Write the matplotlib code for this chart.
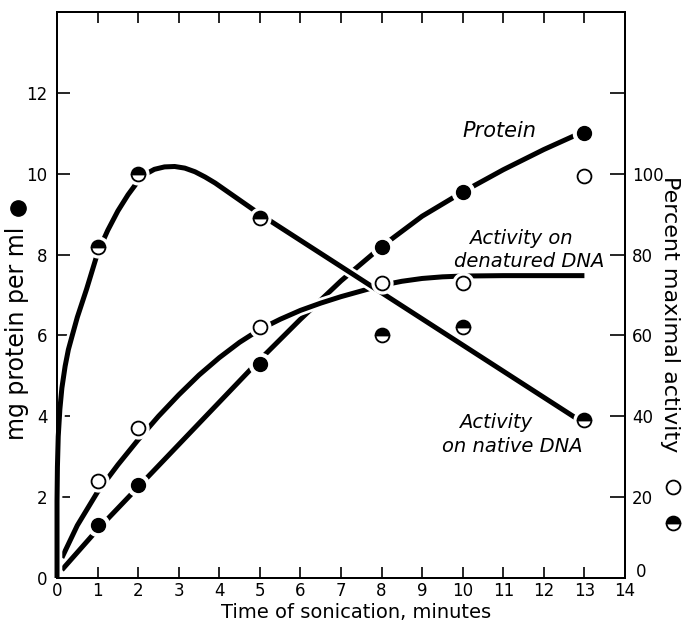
import matplotlib
matplotlib.use("Agg")
import matplotlib.pyplot as plt
import matplotlib.patheffects as pe
import matplotlib.transforms as mtransforms
from matplotlib.lines import Line2D

# measured points
minutes = [1, 2, 5, 8, 10, 13]
protein = [1.3, 2.3, 5.3, 8.2, 9.55, 11.0]          # mg/ml, left axis
act_denatured = [24, 37, 62, 73, 73, 99.5]          # %, right axis
act_native = [82, 100, 89, 60, 62, 39]              # %, right axis

# hand-drawn curves
protein_curve_x = [0.12, 1, 2, 3, 4, 5, 6, 7, 8, 9, 10, 11, 12, 12.75]
protein_curve_y = [0.2, 1.2, 2.25, 3.3, 4.35, 5.4, 6.4, 7.35, 8.2, 8.95, 9.55, 10.1, 10.6, 10.94]
denat_curve_x = [0.12, 0.5, 1, 1.5, 2, 2.5, 3, 3.5, 4, 4.5, 5, 5.5, 6, 6.5, 7, 7.5, 8,
                 8.5, 9, 9.5, 10, 11, 13]
denat_curve_y = [5, 13, 21.3, 28, 34.2, 40, 45.3, 50.2, 54.5, 58.3, 61.5, 64, 66.2, 68,
                 69.6, 71, 72.4, 73.4, 74.1, 74.5, 74.7, 74.8, 74.8]
native_curve_x = [0.0, 0.0, 0.01, 0.03, 0.07, 0.12, 0.2, 0.28, 0.37, 0.5, 0.73, 1.0, 1.25,
                  1.5, 1.75, 2.0, 2.2, 2.4, 2.65, 2.9, 3.15, 3.4, 3.65, 3.9, 4.2, 4.5,
                  5.0, 12.8]
native_curve_y = [0, 19, 27.5, 35, 41.7, 47, 52.4, 56.5, 59.8, 64.5, 71.5, 80.4, 86, 90.8,
                  94.8, 98.2, 100, 101.1, 101.7, 101.8, 101.4, 100.5, 99.2, 97.7, 95.6,
                  93.5, 90, 39.5]

xticks = list(range(0, 15))
left_ticks = [0, 2, 4, 6, 8, 10, 12]
right_ticks = [0, 20, 40, 60, 80, 100, 120]
right_labels = ["0", "20", "40", "60", "80", "100", ""]

lw = 3.6
ms = 10
halo = [pe.Stroke(linewidth=lw + 4, foreground="white"), pe.Normal()]

fig = plt.figure(figsize=(6.82, 6.26), dpi=100)
ax = fig.add_axes([0.0836, 0.0767, 0.8328, 0.904])
ax.set_xlim(0, 14)
ax.set_ylim(0, 14)
ax2 = ax.twinx()
ax2.set_ylim(0, 140)

# protein
ax.plot(protein_curve_x, protein_curve_y, color="black", lw=lw, solid_capstyle="butt", zorder=2)
ax.plot(minutes, protein, "o", color="white", ms=ms + 6, zorder=3)
ax.plot(minutes, protein, "o", color="black", ms=ms, zorder=4)

# activity on denatured DNA
ax2.plot(denat_curve_x, denat_curve_y, color="black", lw=lw, solid_capstyle="butt",
         path_effects=halo, zorder=2)
ax2.plot(minutes, act_denatured, "o", color="white", ms=ms + 5, zorder=3)
ax2.plot(minutes, act_denatured, "o", mfc="white", mec="black", mew=1.3, ms=ms, zorder=4)

# activity on native DNA
ax2.plot(native_curve_x, native_curve_y, color="black", lw=lw, solid_capstyle="butt",
         solid_joinstyle="round", path_effects=halo, zorder=2.2, clip_on=False)
ax2.plot(minutes, act_native, "o", color="white", ms=ms + 5, zorder=3)
ax2.plot(minutes, act_native, "o", fillstyle="top", mfc="black", mfcalt="white",
         mec="black", mew=1.3, ms=ms, zorder=4)

# axes styling
for a in (ax, ax2):
    for s in a.spines.values():
        s.set_linewidth(1.4)
ax.set_xticks(xticks)
ax.set_yticks(left_ticks)
ax.tick_params(axis="both", direction="in", length=9, width=1.2, labelsize=12,
               top=True, right=False)
ax.tick_params(axis="x", length=8, pad=3)
ax.tick_params(axis="y", pad=7)
ax2.set_yticks(right_ticks)
ax2.set_yticklabels(right_labels)
ax2.tick_params(axis="y", direction="in", length=11, width=1.2, labelsize=12, pad=5)

# right-hand "0" sits a little higher, clear of "14"
zero_tick = ax2.yaxis.get_major_ticks()[0]
nudge = mtransforms.ScaledTranslation(3 / 72, 6 / 72, fig.dpi_scale_trans)
zero_tick.label2.set_transform(zero_tick.label2.get_transform() + nudge)

fig.text(356 / 682, 1 - 613 / 626, "Time of sonication, minutes", fontsize=14,
         ha="center", va="center")
fig.text(0.025, 1 - 333 / 626, "mg protein per ml", rotation=90, fontsize=17,
         ha="center", va="center")
fig.text(0.982, 1 - 314 / 626, "Percent maximal activity", rotation=-90, fontsize=16,
         ha="center", va="center")
fig.add_artist(Line2D([18 / 682], [1 - 208 / 626], marker="o", color="black", ms=11,
                      transform=fig.transFigure))
fig.add_artist(Line2D([673 / 682], [1 - 487 / 626], marker="o", mfc="white", mec="black",
                      mew=1.3, ms=10, transform=fig.transFigure))
fig.add_artist(Line2D([673 / 682], [1 - 523 / 626], marker="o", fillstyle="top", mfc="black",
                      mfcalt="white", mec="black", mew=1.3, ms=10, transform=fig.transFigure))

# curve labels
ax.text(10.9, 11.07, "Protein", style="italic", fontsize=15, ha="center", va="center")
ax.text(11.43, 8.39, "Activity on", style="italic", fontsize=14, ha="center", va="center")
ax.text(11.63, 7.84, "denatured DNA", style="italic", fontsize=14, ha="center", va="center")
ax.text(10.81, 3.85, "Activity", style="italic", fontsize=14, ha="center", va="center")
ax.text(11.23, 3.25, "on native DNA", style="italic", fontsize=14, ha="center", va="center")

fig.savefig("out.png", dpi=100)
